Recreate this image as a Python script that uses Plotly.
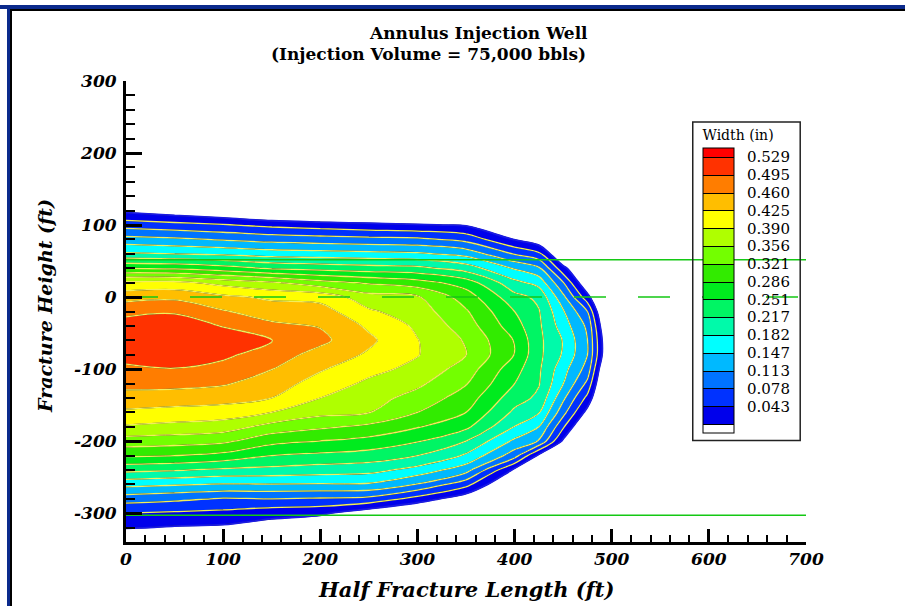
import plotly.graph_objects as go

# ---------------- data ----------------
# grid of half-length (ft) and height (ft); values = fracture width (in)
# negative / tiny values = no fracture (outside the created fracture)
x_ft = [0, 50, 100, 150, 200, 250, 300, 350, 400, 425, 450, 475, 500]
y_ft = [140, 120, 100, 80, 60, 40, 20, 0, -20, -40, -60, -80, -100, -120,
        -140, -160, -180, -200, -220, -240, -260, -280, -300, -320, -340]

width_in = [
    [-0.05, -0.05, -0.05, -0.05, -0.05, -0.05, -0.05, -0.05, -0.05, -0.05, -0.05, -0.05, -0.1],
    [0.0, -0.015, -0.03, -0.052, -0.06, -0.062, -0.066, -0.05, -0.05, -0.05, -0.05, -0.05, -0.1],
    [0.0634, 0.0558, 0.0464, 0.0345, 0.0259, 0.019, 0.0124, 0.005, -0.05, -0.05, -0.05, -0.05, -0.1],
    [0.1265, 0.1195, 0.1094, 0.100, 0.0945, 0.0891, 0.0862, 0.067, 0.007, -0.02, -0.05, -0.05, -0.1],
    [0.187, 0.182, 0.1757, 0.1662, 0.1626, 0.1585, 0.1533, 0.1356, 0.0752, 0.0519, -0.042, -0.05, -0.1],
    [0.286, 0.2811, 0.2663, 0.2471, 0.2392, 0.2321, 0.2266, 0.2008, 0.1439, 0.1189, 0.0193, -0.05, -0.1],
    [0.3975, 0.3998, 0.3786, 0.3605, 0.3341, 0.3165, 0.3011, 0.2703, 0.1919, 0.1698, 0.0799, -0.031, -0.1],
    [0.4466, 0.4519, 0.4324, 0.4188, 0.4133, 0.3696, 0.3603, 0.3040, 0.2283, 0.209, 0.122, 0.0218, -0.1],
    [0.4852, 0.4908, 0.4626, 0.4433, 0.44, 0.3953, 0.3723, 0.3249, 0.2514, 0.219, 0.1517, 0.0779, -0.1],
    [0.510, 0.512, 0.4928, 0.467, 0.4578, 0.419, 0.3842, 0.3385, 0.2662, 0.223, 0.1652, 0.1057, -0.08],
    [0.522, 0.525, 0.510, 0.496, 0.468, 0.432, 0.3915, 0.352, 0.284, 0.225, 0.180, 0.113, -0.06],
    [0.508, 0.512, 0.502, 0.477, 0.4468, 0.42, 0.392, 0.356, 0.285, 0.225, 0.178, 0.113, -0.06],
    [0.4872, 0.4931, 0.4821, 0.4604, 0.4286, 0.4001, 0.381, 0.3394, 0.2651, 0.222, 0.1607, 0.0987, -0.09],
    [0.4694, 0.470, 0.4633, 0.4427, 0.4095, 0.3835, 0.3628, 0.3232, 0.2514, 0.219, 0.1485, 0.0692, -0.1],
    [0.4471, 0.443, 0.4382, 0.4249, 0.3902, 0.3702, 0.3425, 0.3049, 0.2316, 0.2093, 0.1201, 0.0336, -0.1],
    [0.4186, 0.4128, 0.4084, 0.3902, 0.3658, 0.3568, 0.3208, 0.2861, 0.2096, 0.1845, 0.09, -0.005, -0.1],
    [0.3859, 0.380, 0.3729, 0.3431, 0.327, 0.3131, 0.2885, 0.2594, 0.1812, 0.1473, 0.0482, -0.05, -0.1],
    [0.3406, 0.3357, 0.3282, 0.2969, 0.2855, 0.2745, 0.2543, 0.2167, 0.1401, 0.11, 0.0015, -0.05, -0.1],
    [0.2911, 0.2861, 0.2757, 0.2514, 0.2434, 0.2368, 0.2167, 0.1774, 0.0935, 0.0, -0.05, -0.05, -0.1],
    [0.2262, 0.2199, 0.2104, 0.206, 0.1999, 0.1944, 0.1696, 0.127, 0.0, -0.05, -0.05, -0.05, -0.1],
    [0.1589, 0.1512, 0.145, 0.146, 0.1445, 0.1434, 0.1108, 0.0554, -0.05, -0.05, -0.05, -0.05, -0.1],
    [0.0933, 0.0856, 0.0752, 0.0779, 0.0740, 0.068, 0.0297, -0.017, -0.05, -0.05, -0.05, -0.05, -0.1],
    [0.0432, 0.0382, 0.0337, 0.0209, 0.0154, -0.017, -0.047, -0.05, -0.05, -0.05, -0.05, -0.05, -0.1],
    [0.0117, 0.005, 0.002, -0.01, -0.031, -0.05, -0.05, -0.05, -0.05, -0.05, -0.05, -0.05, -0.1],
    [-0.05, -0.05, -0.05, -0.05, -0.05, -0.05, -0.05, -0.05, -0.05, -0.05, -0.05, -0.05, -0.1],
]

# legend levels (Width (in))
legend_levels = [0.043, 0.078, 0.113, 0.147, 0.182, 0.217, 0.251, 0.286,
                 0.321, 0.356, 0.390, 0.425, 0.460, 0.495, 0.529]
edge_level = 0.0085
level_step = 0.0347

# band colours, lowest band (outside fracture) first
band_colors = ["#ffffff", "#0000eb", "#0032ff", "#0073ff", "#00b9ff", "#00ffff",
               "#00faaa", "#00f564", "#00eb1e", "#32eb00", "#73ff00", "#afff00",
               "#ffff00", "#ffbe00", "#ff7d00", "#ff3200", "#ff0000"]

# reference lines (ft)
zone_top_ft = 52
zone_bottom_ft = -303
perf_center_ft = 0
x_range = [0, 700]
y_range = [-340, 300]
x_ticks = [0, 100, 200, 300, 400, 500, 600, 700]
y_ticks = [300, 200, 100, 0, -100, -200, -300]

# ---------------- layout helpers ----------------
W, H = 905, 606
ML, MR, MT, MB = 126, 99, 81, 64
PW, PH = W - ML - MR, H - MT - MB


def px_x(px):
    return (px - ML) / PW


def px_y(py):
    return (H - MB - py) / PH


SERIF = "DejaVu Serif"
n = len(band_colors) - 1
colorscale = [[i / n, c] for i, c in enumerate(band_colors)]

fig = go.Figure()

# filled bands (with black separators used by the legend)
fig.add_trace(go.Contour(
    x=x_ft, y=y_ft, z=width_in,
    autocontour=False,
    contours=dict(start=edge_level, end=legend_levels[-1] + 0.0001,
                  size=level_step, coloring="fill", showlines=True),
    line=dict(color="black", width=1),
    colorscale=colorscale,
    showscale=True,
    hoverinfo="skip",
    colorbar=dict(
        title=dict(text="Width (in)", side="top",
                   font=dict(family=SERIF, size=14, color="black")),
        tickvals=legend_levels,
        ticktext=[f"{v:.3f}" for v in legend_levels],
        tickfont=dict(family=SERIF, size=15, color="black"),
        ticks="outside", ticklen=10, tickcolor="rgba(0,0,0,0)",
        thickness=31, thicknessmode="pixels",
        len=316, lenmode="pixels",
        x=px_x(694), xanchor="left",
        y=px_y(122), yanchor="top",
        xpad=9, ypad=5,
        outlinecolor="black", outlinewidth=1,
        bordercolor="#222222", borderwidth=1.5,
        bgcolor="rgba(255,255,255,0)",
    ),
))

# yellow contour lines
fig.add_trace(go.Contour(
    x=x_ft, y=y_ft, z=width_in,
    autocontour=False,
    contours=dict(start=edge_level + level_step,
                  end=legend_levels[-2] + 0.0001,
                  size=level_step, coloring="none", showlines=True),
    line=dict(color="#f2ee5c", width=1.3),
    showscale=False, hoverinfo="skip",
))

# fracture edge (soft blue)
fig.add_trace(go.Contour(
    x=x_ft, y=y_ft, z=width_in,
    autocontour=False,
    contours=dict(start=edge_level, end=edge_level, size=1,
                  coloring="none", showlines=True),
    line=dict(color="#1a1ae6", width=1.8),
    showscale=False, hoverinfo="skip",
))

green = "#14c814"
for yv, dash in [(zone_top_ft, "solid"), (perf_center_ft, "32px,32px"),
                 (zone_bottom_ft, "solid")]:
    fig.add_trace(go.Scatter(
        x=x_range, y=[yv, yv], mode="lines",
        line=dict(color=green, width=1.5, dash=dash),
        showlegend=False, hoverinfo="skip",
    ))

tickfont = dict(family=SERIF, size=17, color="black", weight="bold", style="italic")
axis_common = dict(
    showline=True, linewidth=3, linecolor="black",
    showgrid=False, zeroline=False, ticks="inside", tickcolor="black",
    tickfont=tickfont,
)
fig.update_xaxes(
    range=x_range, tickvals=x_ticks, ticktext=[str(v) for v in x_ticks],
    ticklen=13, tickwidth=3,
    minor=dict(dtick=20, tick0=0, ticks="inside", ticklen=7, tickwidth=2,
               tickcolor="black", showgrid=False),
    **axis_common,
)
fig.update_yaxes(
    range=y_range, tickvals=y_ticks, ticktext=[str(v) for v in y_ticks],
    ticklen=16, tickwidth=3, ticklabelstandoff=3,
    minor=dict(dtick=20, tick0=0, ticks="inside", ticklen=9, tickwidth=2,
               tickcolor="black", showgrid=False),
    **axis_common,
)

title_font = dict(family=SERIF, size=17, color="black", weight="bold")
annotations = [
    dict(text="Annulus Injection Well", x=px_x(478), y=px_y(33),
         font=title_font),
    dict(text="(Injection Volume = 75,000 bbls)", x=px_x(428), y=px_y(54),
         font=title_font),
    dict(text="Half Fracture Length (ft)", x=px_x(466), y=px_y(589),
         font=dict(family=SERIF, size=21, color="black", weight="bold", style="italic")),
    dict(text="Fracture Height (ft)", x=px_x(45), y=px_y(306),
         textangle=-90,
         font=dict(family=SERIF, size=19, color="black", weight="bold", style="italic")),
]
for a in annotations:
    a.update(xref="paper", yref="paper", showarrow=False,
             xanchor="center", yanchor="middle")

# blue window frame (top and left)
shapes = [
    dict(type="rect", x0=px_x(0), x1=px_x(W), y0=px_y(9), y1=px_y(5),
         fillcolor="#0b2a8c", line=dict(width=0)),
    dict(type="rect", x0=px_x(10), x1=px_x(W), y0=px_y(11), y1=px_y(9),
         fillcolor="#000000", line=dict(width=0)),
    dict(type="rect", x0=px_x(7), x1=px_x(10), y0=px_y(H), y1=px_y(5),
         fillcolor="#0b2a8c", line=dict(width=0)),
    dict(type="rect", x0=px_x(10), x1=px_x(12), y0=px_y(H), y1=px_y(9),
         fillcolor="#000000", line=dict(width=0)),
]
for s in shapes:
    s.update(xref="paper", yref="paper", layer="above")

fig.update_layout(
    width=W, height=H,
    margin=dict(l=ML, r=MR, t=MT, b=MB, autoexpand=False),
    paper_bgcolor="white", plot_bgcolor="white",
    showlegend=False,
    annotations=annotations,
    shapes=shapes,
)

fig.write_html("out.html")
